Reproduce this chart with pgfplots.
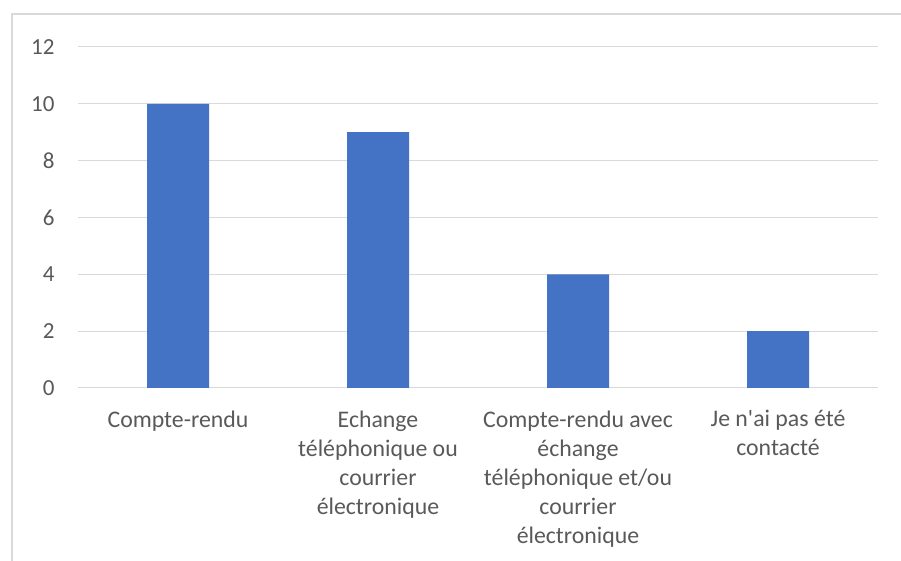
\documentclass[border=0pt]{standalone}
\usepackage{pgfplots}
\pgfplotsset{compat=1.18}
\usepackage{fontspec}
\setmainfont{Carlito}[Ligatures=TeXOff]
\definecolor{barblue}{HTML}{4472C4}
\definecolor{gridgray}{HTML}{D9D9D9}
\definecolor{txtgray}{HTML}{595959}
\begin{document}
\begin{tikzpicture}[x=1pt,y=1pt]
\useasboundingbox (-78pt,-173pt) rectangle (823pt,388pt);
\draw[gridgray,line width=1.5pt] (-66pt,-200pt) -- (-66pt,374pt) -- (900pt,374pt);
\begin{axis}[
  scale only axis,
  width=800pt, height=341pt,
  xmin=-0.5, xmax=3.5,
  ymin=0, ymax=12,
  ytick={0,2,...,12},
  xtick=data,
  xticklabels={Compte-rendu,Echange\\téléphonique ou\\courrier\\électronique,Compte-rendu avec\\échange\\téléphonique et/ou\\courrier\\électronique,Je n'ai pas été\\contacté},
  xticklabel style={align=center, text=txtgray, font=\fontsize{23.8}{29}\selectfont, yshift=-19pt},
  yticklabel style={text=txtgray, font=\fontsize{23}{26}\selectfont, xshift=-20pt},
  /pgf/number format/assume math mode=true,
  ymajorgrids,
  grid style={gridgray, line width=1pt},
  axis x line*=bottom,
  axis y line*=left,
  y axis line style={draw=none},
  x axis line style={gridgray, line width=1pt, -},
  major tick length=0pt,
  ybar,
  bar width=62pt,
  enlargelimits=false,
]
\addplot[fill=barblue, draw=none] coordinates {(0,10) (1,9) (2,4) (3,2)};
\end{axis}
\end{tikzpicture}
\end{document}
